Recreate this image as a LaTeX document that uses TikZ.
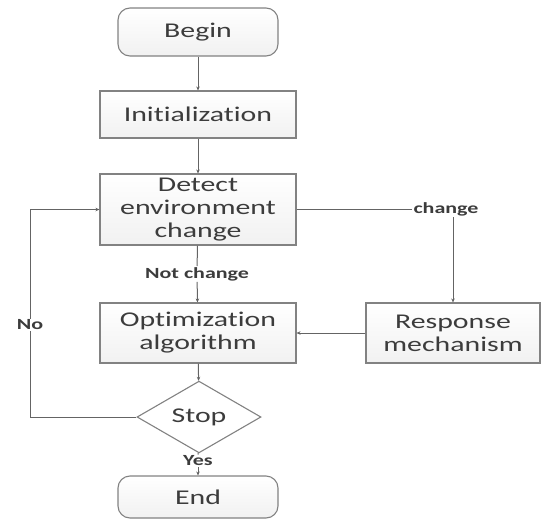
\documentclass[tikz,border=0pt]{standalone}
\usepackage{fontspec}
\setmainfont{Carlito}[FakeStretch=1.42,Ligatures=NoCommon]
\usepackage{tikz}
\usetikzlibrary{shapes.geometric,arrows.meta}

\definecolor{boxline}{RGB}{130,130,130}
\definecolor{conline}{RGB}{100,100,100}
\definecolor{boxtext}{RGB}{60,60,60}

\tikzset{
  flowbox/.style={draw=boxline,line width=1.1pt,top color=white,bottom color=gray!11,
    text=boxtext,align=center,inner sep=0pt,font=\fontsize{21}{23}\selectfont},
  termbox/.style={flowbox,rounded corners=12pt},
  decbox/.style={flowbox,diamond,top color=white,bottom color=white},
  edgelabel/.style={fill=white,inner sep=1pt,text=boxtext,font=\fontsize{15.5}{17}\selectfont\bfseries},
  flowline/.style={draw=conline,line width=1pt},
  flowarrow/.style={flowline,-{Stealth[length=4pt,width=3.5pt]}}
}

\begin{document}
\begin{tikzpicture}[x=1pt,y=1pt,yscale=-1,xscale=1]
        \useasboundingbox (0,0) rectangle (542,520);

        % Boxes
        \node [termbox,minimum width=160,minimum height=48] (begin) at (198,32) {Begin};
        \node [flowbox,minimum width=196,minimum height=47] (init) at (198,114.5) {Initialization};
        \node [flowbox,minimum width=196,minimum height=71] (detect) at (198,209.5) {Detect\\environment\\change};
        \node [flowbox,minimum width=196,minimum height=60] (optim) at (198,333) {Optimization\\algorithm};
        \node [flowbox,minimum width=174,minimum height=60] (resp) at (453,333) {Response\\mechanism};
        \node [decbox,minimum width=124,minimum height=56] (stop) at (199,417) {Stop};
        \node [termbox,minimum width=160,minimum height=42] (end) at (198,497) {End};

        % Straight Lines
        \draw [flowarrow] (begin) -- (init);
        \draw [flowarrow] (init) -- (detect);
        \draw [flowarrow] (optim) -- (stop);
        \draw [flowarrow] (resp) -- (optim);

        % Not change
        \node [edgelabel] (notchg) at (197,274) {Not change};
        \draw [flowline] (detect) -- (notchg);
        \draw [flowarrow] (notchg) -- (optim);

        % change
        \node [edgelabel] (chg) at (446,209.5) {change};
        \draw [flowline] (detect.east) -- (chg.west);
        \draw [flowarrow] (chg.south -| resp.north) -- (resp.north);

        % Yes
        \node [edgelabel] (yes) at (198,461) {Yes};
        \draw [flowline] (stop) -- (yes);
        \draw [flowarrow] (yes) -- (end);

        % No
        \coordinate (lft) at (30,417);
        \draw [flowarrow] (stop.west) -- (lft) |- (detect.west);
        \node [edgelabel] (no) at (30,325) {No};

    \end{tikzpicture}
\end{document}
